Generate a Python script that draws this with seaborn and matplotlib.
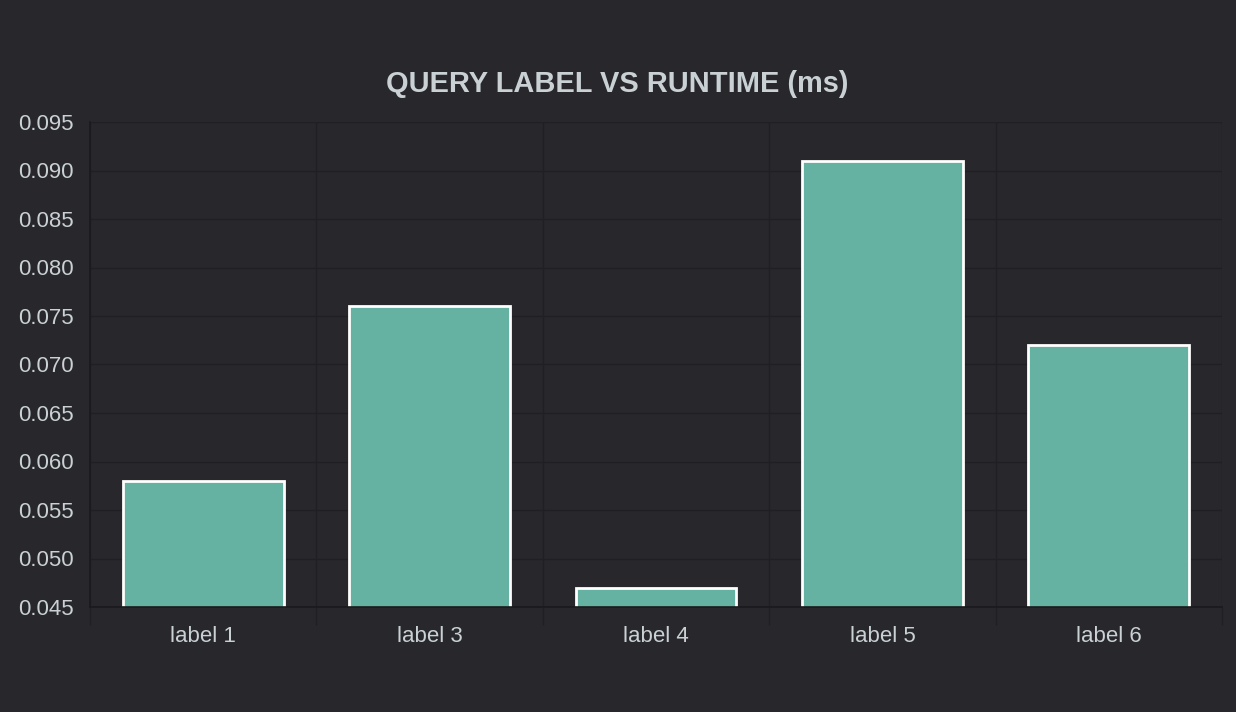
import matplotlib
matplotlib.use("Agg")
import matplotlib.pyplot as plt
import seaborn as sns
import pandas as pd
import numpy as np

# Data
labels = ["label 1", "label 3", "label 4", "label 5", "label 6"]
runtimes = [0.058, 0.076, 0.047, 0.091, 0.072]
y_ticks = [0.045, 0.050, 0.055, 0.060, 0.065, 0.070, 0.075, 0.080, 0.085, 0.090, 0.095]

BG = "#27272c"
GRID = "#202024"
AXIS = "#1a1a1d"
TEXT = "#c9d1d4"
BAR = "#66b2a2"

sns.set_theme(style="dark")
plt.rcParams["font.family"] = ["Liberation Sans", "DejaVu Sans"]

df = pd.DataFrame({"label": labels, "runtime": runtimes})

fig = plt.figure(figsize=(12.36, 7.12), dpi=100, facecolor=BG)
ax = fig.add_axes([90 / 1236, 105 / 712, 1132 / 1236, 485 / 712])
ax.set_facecolor(BG)

sns.barplot(data=df, x="label", y="runtime", color=BAR, saturation=1,
            width=0.71, edgecolor="white", linewidth=2, ax=ax)

ax.set_ylim(y_ticks[0], y_ticks[-1])
ax.set_xlim(-0.5, len(labels) - 0.5)
ax.set_yticks(y_ticks)
ax.set_yticklabels([f"{t:.3f}" for t in y_ticks])
ax.set_xticks(np.arange(-0.5, len(labels)), minor=True)

ax.grid(True, axis="y", which="major", color=GRID, linewidth=1)
ax.grid(True, axis="x", which="minor", color=GRID, linewidth=1)
ax.grid(False, axis="x", which="major")
ax.set_axisbelow(True)

ax.tick_params(axis="y", length=0, pad=12, labelsize=16, labelcolor=TEXT)
ax.tick_params(axis="x", which="major", length=0, pad=14, labelsize=16, labelcolor=TEXT)
ax.tick_params(axis="x", which="minor", length=13, width=1, color=GRID, bottom=True)

for side in ["top", "right"]:
    ax.spines[side].set_visible(False)
for side in ["left", "bottom"]:
    ax.spines[side].set_color(AXIS)
    ax.spines[side].set_linewidth(1.2)

ax.set_xlabel("")
ax.set_ylabel("")

fig.text(617 / 1236, 1 - 84 / 712, "QUERY LABEL VS RUNTIME (ms)", ha="center", va="center",
         fontsize=20.9, fontweight="bold", color=TEXT)

fig.savefig("out.png", dpi=100, facecolor=BG)
